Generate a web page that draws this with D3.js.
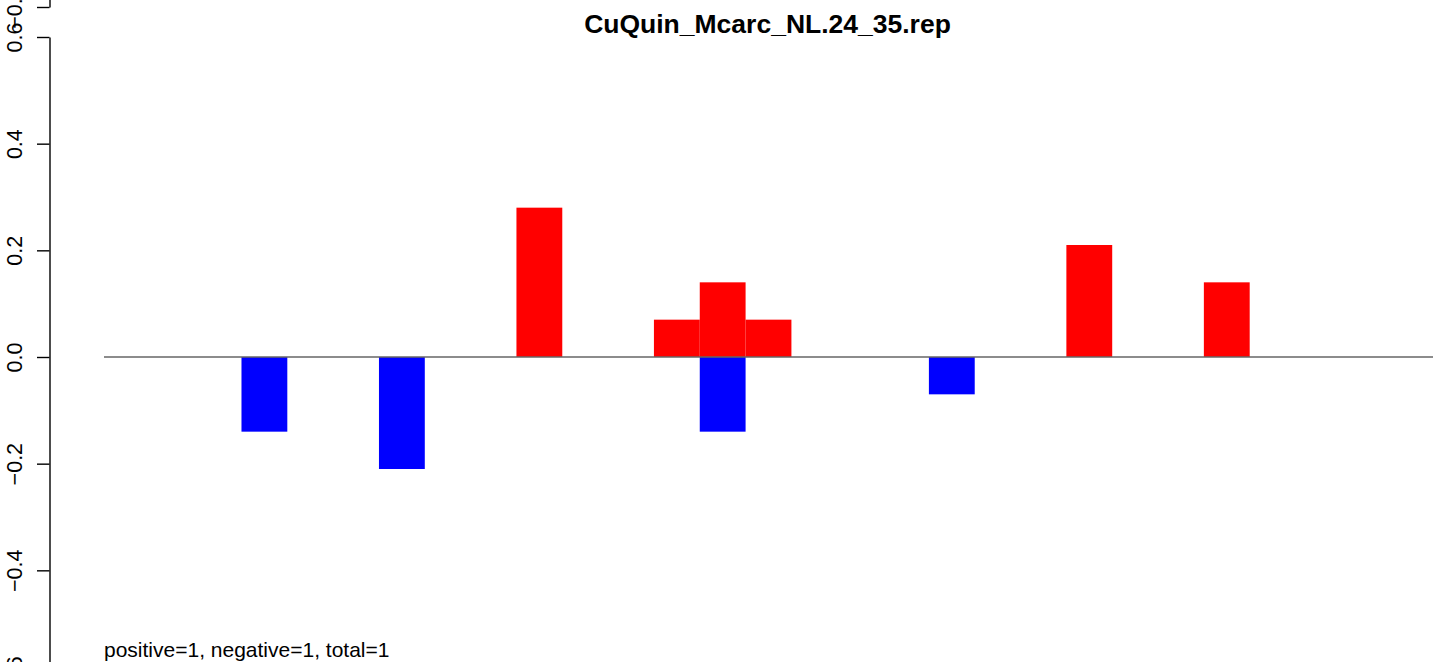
<!DOCTYPE html>
<html><head><meta charset="utf-8">
<script src="https://cdn.jsdelivr.net/npm/d3@7"></script>
<style>
html,body{margin:0;padding:0;background:#fff;overflow:hidden}
svg{display:block;font-family:"Liberation Sans",Arial,sans-serif}
</style></head>
<body>
<svg id="chart" width="1433" height="662"></svg>
<script>
const title = "CuQuin_Mcarc_NL.24_35.rep";
const footnote = "positive=1, negative=1, total=1";
const slotCount = 29;
const barSlot  = [3, 6, 9, 12, 13, 13, 14, 18, 21, 24];
const barValue = [-0.14, -0.21, 0.28, 0.07, 0.14, -0.14, 0.07, -0.07, 0.21, 0.14];
const yTicks = [-0.6, -0.4, -0.2, 0.0, 0.2, 0.4, 0.6];
const prevPanelTick = [-0.6];

const svg = d3.select("#chart");
const x = d3.scaleBand().domain(d3.range(slotCount)).range([104, 1433]).padding(0);
const y = d3.scaleLinear().domain([-0.6, 0.6]).range([677, 37]);
const axisX = 49.5;

// bars
svg.append("g").selectAll("rect").data(barSlot.map((s,i)=>({s, v: barValue[i]})))
  .join("rect")
  .attr("x", d => x(d.s))
  .attr("width", x.bandwidth())
  .attr("y", d => y(Math.max(0, d.v)))
  .attr("height", d => Math.abs(y(d.v) - y(0)))
  .attr("fill", d => d.v >= 0 ? "#ff0000" : "#0000ff");

// zero line
svg.append("line")
  .attr("x1", x.range()[0]).attr("x2", x.range()[1])
  .attr("y1", y(0)).attr("y2", y(0))
  .attr("stroke", "#666").attr("stroke-width", 1.3);

// y axis
function styleAxis(g) {
  g.select(".domain").attr("stroke", "#000").attr("stroke-width", 1.4);
  g.selectAll(".tick line").attr("stroke", "#000").attr("stroke-width", 1.4);
  g.selectAll(".tick text")
    .attr("x", null).attr("dy", null)
    .attr("text-anchor", "middle")
    .attr("transform", "translate(-27.5,0) rotate(-90)")
    .attr("font-size", 21.5).attr("fill", "#000")
    .attr("font-family", '"Liberation Sans",Arial,sans-serif');
}
const yAxis = d3.axisLeft(y).tickValues(yTicks).tickFormat(d3.format(".1f")).tickSize(12.5).tickSizeOuter(0);
svg.append("g").attr("transform", `translate(${axisX},0)`).call(yAxis).call(styleAxis);

// fragment of the panel above (its bottom tick)
const yPrev = d3.scaleLinear().domain([-0.6, -0.5]).range([7, -46]);
const prevAxis = d3.axisLeft(yPrev).tickValues(prevPanelTick).tickFormat(d3.format(".1f")).tickSize(12.5).tickSizeOuter(0);
svg.append("g").attr("transform", `translate(${axisX},0)`).call(prevAxis).call(styleAxis);

// title
svg.append("text").attr("x", 767.5).attr("y", 33)
  .attr("text-anchor", "middle").attr("font-weight", "bold").attr("font-size", 26.5)
  .text(title);

// footnote
svg.append("text").attr("x", 104).attr("y", 657)
  .attr("font-size", 21).text(footnote);
</script>
</body></html>
